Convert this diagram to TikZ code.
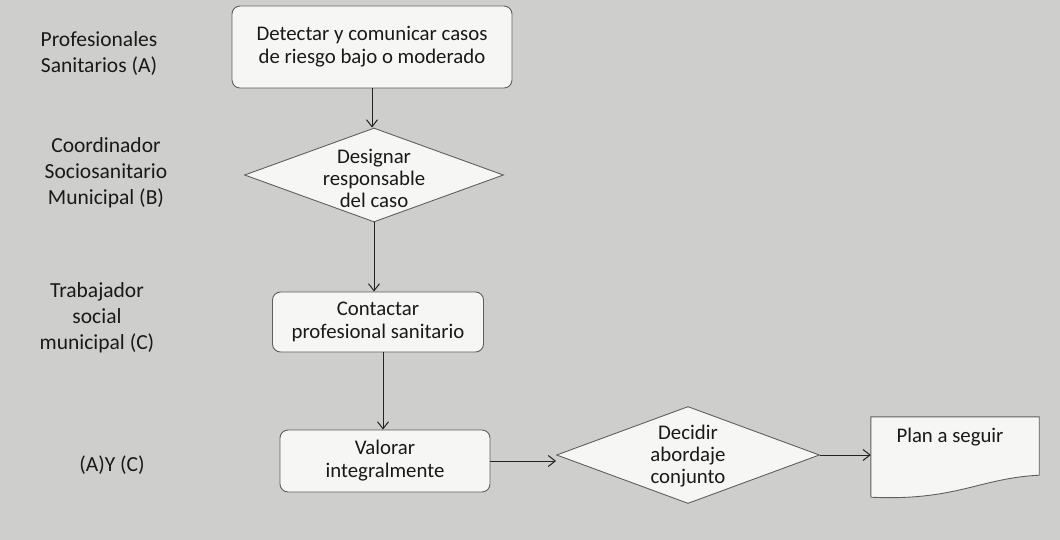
\documentclass[tikz,border=0pt]{standalone}
\usepackage{fontspec}
\setmainfont{Carlito}
\usetikzlibrary{shapes.geometric,arrows.meta,calc}
\definecolor{bgc}{RGB}{206,206,204}
\definecolor{boxc}{RGB}{246,246,244}
\definecolor{linec}{RGB}{95,95,95}
\definecolor{arrc}{RGB}{35,35,35}
\definecolor{txtc}{RGB}{25,25,25}
\tikzset{
  rbox/.style={draw=linec, line width=0.9pt, fill=boxc, rounded corners=8pt, inner sep=0pt, align=center, text=txtc, font=\fontsize{20.8}{23}\selectfont},
  dia/.style={diamond, draw=linec, line width=0.9pt, fill=boxc, inner sep=0pt},
  diatext/.style={align=center, text=txtc, font=\fontsize{20.8}{22}\selectfont, inner sep=0pt},
  role/.style={align=center, text=txtc, font=\fontsize{21.5}{26}\selectfont, inner sep=0pt},
  arr/.style={draw=arrc, line width=1pt, -{Straight Barb[length=7pt,width=11pt,line width=1pt]}},
}
\begin{document}
\begin{tikzpicture}[x=1pt,y=-1pt]
\fill[bgc] (0,0) rectangle (1060,540);
\useasboundingbox (0,0) rectangle (1060,540);

% role labels
\node[role] (ra) at (99,54) {Profesionales\\Sanitarios (A)};
\node[role] (rb) at (106,173) {Coordinador\\Sociosanitario\\Municipal (B)};
\node[role] (rc) at (97,318) {Trabajador\\social\\municipal (C)};
\node[role] (rac) at (112,465) {(A)Y (C)};

% flow nodes
\node[rbox, minimum width=280pt, minimum height=82pt] (b1) at (372,47) {Detectar y comunicar casos\\de riesgo bajo o moderado};
\node[dia, minimum width=259pt, minimum height=94pt] (d1) at (374,175) {};
\node[diatext] (d1t) at (374,178) {Designar\\responsable\\del caso};
\node[rbox, minimum width=211pt, minimum height=60pt] (b2) at (378,322) {Contactar\\profesional sanitario};
\node[rbox, minimum width=210pt, minimum height=62pt] (b3) at (385,461) {Valorar\\integralmente};
\node[dia, minimum width=263pt, minimum height=97pt] (d2) at (688,455) {};
\node[diatext] (d2t) at (688,456) {Decidir\\abordaje\\conjunto};
\node[minimum width=168pt, minimum height=80pt, inner sep=0pt] (doc) at (955,457) {};
\fill[boxc] (doc.south west) -- (doc.north west) -- (doc.north east) -- ($(doc.south east)+(0,-22)$)
  .. controls ($(doc.south east)+(-60,-19)$) and ($(doc.south west)+(85,4)$) .. (doc.south west) -- cycle;
\draw[linec, line width=0.9pt] (doc.south west) -- (doc.north west) -- (doc.north east) -- ($(doc.south east)+(0,-22)$)
  .. controls ($(doc.south east)+(-60,-19)$) and ($(doc.south west)+(85,4)$) .. (doc.south west);
\node[diatext] (doct) at (950,437) {Plan a seguir};

% connectors
\draw[arr] (b1.south) -- (b1.south |- d1.north);
\draw[arr] (d1.south) -- (d1.south |- b2.north);
\draw[arr] ([xshift=5pt]b2.south) -- ([xshift=5pt]b2.south |- b3.north);
\draw[arr] (b3.east) -- (b3.east -| d2.west);
\draw[arr] (d2.east) -- (d2.east -| doc.west);
\end{tikzpicture}
\end{document}
